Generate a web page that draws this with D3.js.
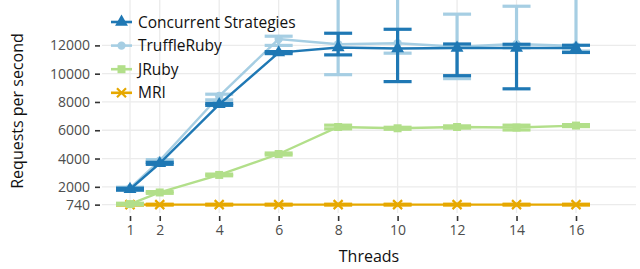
<!DOCTYPE html>
<html>
<head>
<meta charset="utf-8">
<script src="https://cdn.jsdelivr.net/npm/d3@7"></script>
<style>
  body { margin: 0; background: #fff; }
  svg { display: block; font-family: "Open Sans", sans-serif; }
</style>
</head>
<body>
<svg id="chart" width="640" height="269"></svg>
<script>
(function() {
  'use strict';

  var threads = [1, 2, 4, 6, 8, 10, 12, 14, 16];
  var yTicks = [740, 2000, 4000, 6000, 8000, 10000, 12000];

  var concurrentMean = [1830, 3660, 7830, 11490, 11850, 11780, 11820, 11820, 11820];
  var concurrentLow  = [1760, 3590, 7760, 11420, 11330, 9440, 9860, 8930, 11500];
  var concurrentHigh = [1900, 3730, 7900, 11560, 12860, 13140, 12100, 12080, 12010];

  var truffleMean = [1900, 3850, 8420, 12450, 12080, 12150, 11900, 12100, 11960];
  var truffleLow  = [1830, 3780, 8150, 12000, 9930, 11450, 9650, 11830, 11600];
  var truffleHigh = [1970, 3920, 8550, 12650, 16000, 16000, 14210, 14770, 16000];

  var jrubyMean = [780, 1600, 2840, 4320, 6230, 6140, 6230, 6190, 6330];
  var jrubyLow  = [720, 1540, 2780, 4250, 6100, 6070, 6150, 6020, 6260];
  var jrubyHigh = [840, 1660, 2900, 4390, 6360, 6210, 6310, 6360, 6400];

  var mriMean = [740, 740, 740, 740, 740, 740, 740, 740, 740];
  var mriLow  = [710, 710, 710, 710, 710, 710, 710, 710, 710];
  var mriHigh = [770, 770, 770, 770, 770, 770, 770, 770, 770];

  var series = [
    { name: 'Concurrent Strategies', color: '#1f78b4', shape: 'triangle', mean: concurrentMean, low: concurrentLow, high: concurrentHigh, order: 1 },
    { name: 'TruffleRuby', color: '#a6cee3', shape: 'circle', mean: truffleMean, low: truffleLow, high: truffleHigh, order: 0 },
    { name: 'JRuby', color: '#b2df8a', shape: 'square', mean: jrubyMean, low: jrubyLow, high: jrubyHigh, order: 3 },
    { name: 'MRI', color: '#e6a800', shape: 'cross', mean: mriMean, low: mriLow, high: mriHigh, order: 2 }
  ];

  var panel = { left: 102, right: 636, top: 0, bottom: 213 };

  var svg = d3.select('#chart');

  var x = d3.scaleLinear().domain([1, 16]).range([130, 576]);
  var y = d3.scaleLinear().domain([0, 12000]).range([215.1, 45.4]);

  // grid
  var grid = svg.append('g').attr('class', 'grid');
  grid.selectAll('line.v').data(threads).enter().append('line')
    .attr('x1', function(d) { return x(d); })
    .attr('x2', function(d) { return x(d); })
    .attr('y1', panel.top).attr('y2', panel.bottom)
    .attr('stroke', '#ebebeb').attr('stroke-width', 1.3);
  grid.selectAll('line.h').data(yTicks).enter().append('line')
    .attr('x1', panel.left).attr('x2', panel.right)
    .attr('y1', function(d) { return y(d); })
    .attr('y2', function(d) { return y(d); })
    .attr('stroke', '#ebebeb').attr('stroke-width', 1.3);

  // axes
  var xAxis = svg.append('g')
    .attr('transform', 'translate(0,' + 216 + ')')
    .call(d3.axisBottom(x).tickValues(threads).tickSize(5).tickPadding(4));
  var yAxis = svg.append('g')
    .attr('transform', 'translate(' + 100 + ',0)')
    .call(d3.axisLeft(y).tickValues(yTicks).tickSize(5).tickPadding(5).tickFormat(d3.format('d')));
  [xAxis, yAxis].forEach(function(ax) {
    ax.select('.domain').remove();
    ax.selectAll('.tick line').attr('stroke', '#333').attr('stroke-width', 1.6);
    ax.selectAll('.tick text')
      .attr('fill', '#4d4d4d')
      .style('font-size', '14px')
      .style('font-family', '"Open Sans", sans-serif');
  });

  svg.append('text')
    .attr('x', 369).attr('y', 262)
    .attr('text-anchor', 'middle')
    .style('font-size', '16px')
    .attr('fill', '#111')
    .text('Threads');

  svg.append('text')
    .attr('transform', 'translate(23,111) rotate(-90)')
    .attr('text-anchor', 'middle')
    .style('font-size', '16px')
    .attr('fill', '#111')
    .text('Requests per second');

  // marks
  svg.append('clipPath').attr('id', 'panel-clip')
    .append('rect')
    .attr('x', panel.left).attr('y', panel.top)
    .attr('width', panel.right - panel.left)
    .attr('height', panel.bottom - panel.top);

  var marks = svg.append('g').attr('clip-path', 'url(#panel-clip)');

  var symbolFor = function(shape) {
    if (shape === 'triangle') { return d3.symbol().type(d3.symbolTriangle).size(72)(); }
    if (shape === 'circle') { return d3.symbol().type(d3.symbolCircle).size(55)(); }
    if (shape === 'square') { return d3.symbol().type(d3.symbolSquare).size(64)(); }
    return d3.symbol().type(d3.symbolCross).size(60)();
  };

  var drawPoint = function(g, s, px, py) {
    if (s.shape === 'cross') {
      g.append('path')
        .attr('d', 'M-4.5,-4.5L4.5,4.5M-4.5,4.5L4.5,-4.5')
        .attr('transform', 'translate(' + px + ',' + py + ')')
        .attr('stroke', s.color).attr('stroke-width', 2.2).attr('fill', 'none');
    } else {
      g.append('path')
        .attr('d', symbolFor(s.shape))
        .attr('transform', 'translate(' + px + ',' + py + ')')
        .attr('fill', s.color);
    }
  };

  var line = d3.line()
    .x(function(d) { return x(d[0]); })
    .y(function(d) { return y(d[1]); });

  var capHalf = 14;
  series.slice().sort(function(a, b) { return a.order - b.order; }).forEach(function(s) {
    var g = marks.append('g');
    var pts = threads.map(function(t, i) { return [t, s.mean[i]]; });
    g.append('path').datum(pts)
      .attr('d', line)
      .attr('fill', 'none')
      .attr('stroke', s.color)
      .attr('stroke-width', 2.4);

    threads.forEach(function(t, i) {
      var cx = x(t);
      g.append('line')
        .attr('x1', cx).attr('x2', cx)
        .attr('y1', y(s.low[i])).attr('y2', y(s.high[i]))
        .attr('stroke', s.color).attr('stroke-width', 3.2);
      [s.low[i], s.high[i]].forEach(function(v) {
        g.append('line')
          .attr('x1', cx - capHalf).attr('x2', cx + capHalf)
          .attr('y1', y(v)).attr('y2', y(v))
          .attr('stroke', s.color).attr('stroke-width', 3.2);
      });
    });

    threads.forEach(function(t, i) {
      drawPoint(g, s, x(t), y(s.mean[i]));
    });
  });

  // legend
  var legend = svg.append('g');
  series.forEach(function(s, i) {
    var ly = 22 + i * 23.6;
    var item = legend.append('g');
    item.append('line')
      .attr('x1', 111).attr('x2', 132)
      .attr('y1', ly).attr('y2', ly)
      .attr('stroke', s.color).attr('stroke-width', 2.6);
    drawPoint(item, s, 121.5, ly);
    item.append('text')
      .attr('x', 138).attr('y', ly)
      .attr('dy', '0.36em')
      .style('font-size', '15.5px')
      .attr('fill', '#111')
      .text(s.name);
  });
})();
</script>
</body>
</html>
